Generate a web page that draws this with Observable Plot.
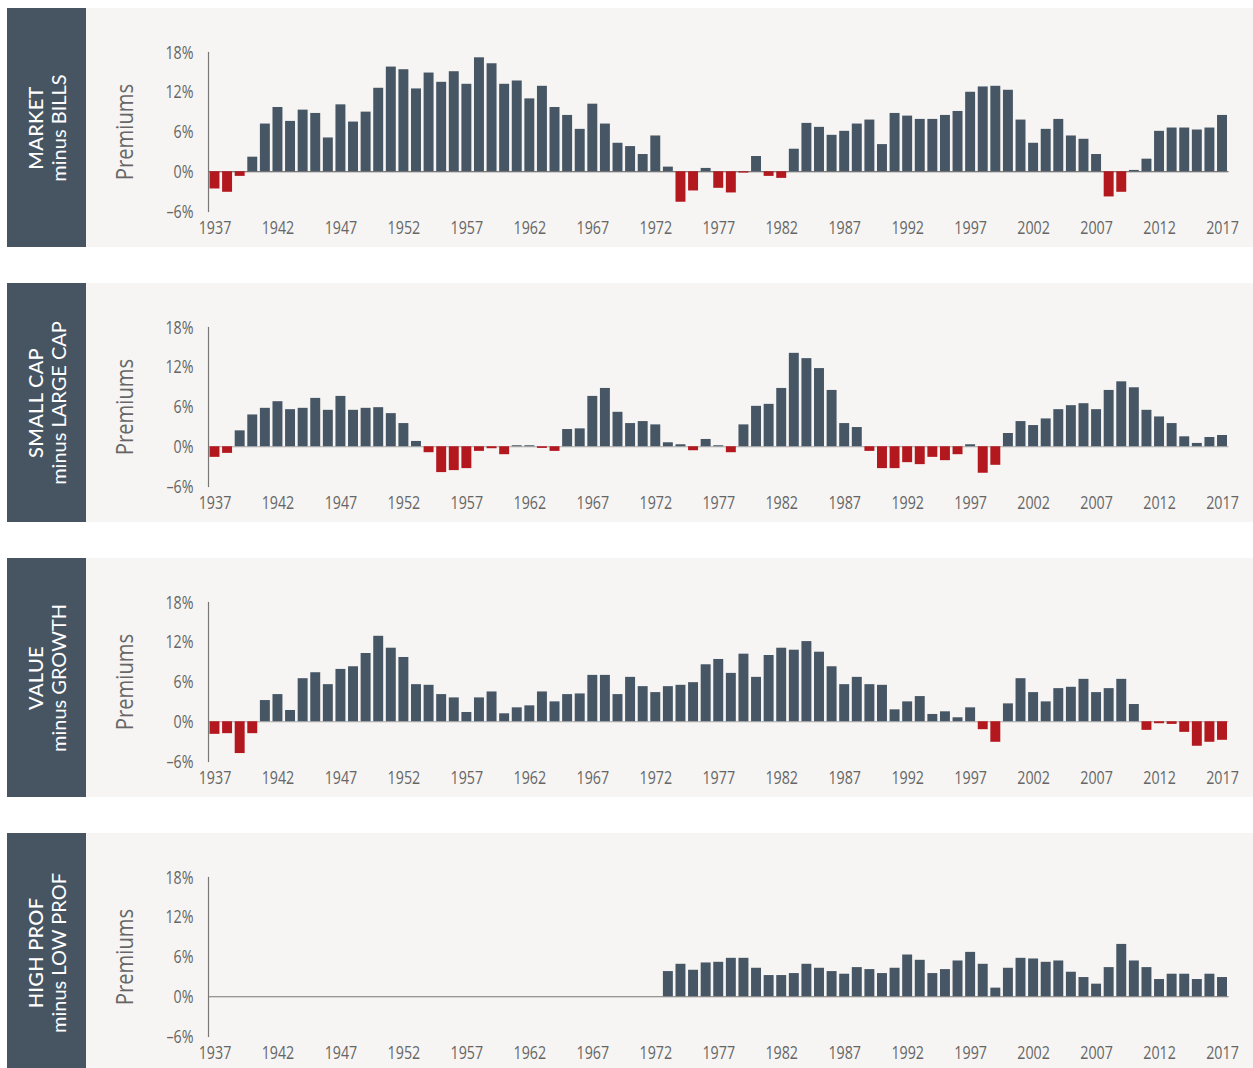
<!DOCTYPE html>
<html>
<head>
<meta charset="utf-8">
<script src="https://cdn.jsdelivr.net/npm/d3@7"></script>
<script src="https://cdn.jsdelivr.net/npm/@observablehq/plot@0.6"></script>
<style>
  html, body { margin: 0; padding: 0; background: #ffffff; overflow: hidden; width: 1253px; height: 1068px; }
  .panel { position: absolute; left: 7px; width: 1246px; height: 239px; background: #f6f5f3; }
  .side { position: absolute; left: 0; top: 0; width: 79px; height: 239px; background: #475563; }
  .side .t { position: absolute; left: 50%; top: 50%; transform: translate(-50%, -50%) rotate(-90deg);
             text-align: center; white-space: nowrap; color: #ffffff; font-family: Lato, "Noto Sans", sans-serif;
             font-size: 20px; line-height: 23px; }
  .side .l1 { font-weight: 500; letter-spacing: 0.3px; }
  .side .l2 { font-weight: 400; }
  .chart { position: absolute; left: 79px; top: 0; }
</style>
</head>
<body>
<div id="root"></div>
<script>
// ---- Data ----
const years = d3.range(1937, 2018); // 1937 … 2017
const xTickYears = [1937, 1942, 1947, 1952, 1957, 1962, 1967, 1972, 1977, 1982, 1987, 1992, 1997, 2002, 2007, 2012, 2017];
const yTicks = [-6, 0, 6, 12, 18];

const marketMinusBills = [
  -2.6, -3.1, -0.7, 2.2, 7.2, 9.7, 7.6, 9.3, 8.8, 5.1,
  10.1, 7.5, 9.0, 12.6, 15.8, 15.4, 12.5, 14.9, 13.5, 15.1,
  13.2, 17.2, 16.3, 13.2, 13.7, 11.0, 12.9, 9.7, 8.5, 6.4,
  10.2, 7.2, 4.3, 3.8, 2.6, 5.4, 0.7, -4.6, -2.9, 0.5,
  -2.5, -3.2, -0.2, 2.3, -0.7, -1.0, 3.4, 7.3, 6.7, 5.5,
  6.1, 7.2, 7.8, 4.1, 8.8, 8.4, 7.9, 7.9, 8.5, 9.1,
  12.0, 12.8, 12.9, 12.3, 7.8, 4.3, 6.4, 7.9, 5.4, 4.9,
  2.6, -3.8, -3.1, 0.2, 1.9, 6.1, 6.6, 6.6, 6.3, 6.6,
  8.5
];

const smallMinusLarge = [
  -1.6, -1.0, 2.4, 4.8, 5.8, 6.8, 5.6, 5.8, 7.3, 5.5,
  7.6, 5.5, 5.8, 5.9, 5.0, 3.5, 0.8, -0.9, -3.9, -3.6,
  -3.3, -0.7, -0.3, -1.2, 0.15, 0.15, -0.25, -0.7, 2.6, 2.7,
  7.6, 8.8, 5.2, 3.5, 3.8, 3.3, 0.6, 0.3, -0.6, 1.1,
  0.15, -0.9, 3.3, 6.1, 6.4, 8.8, 14.1, 13.3, 11.8, 8.5,
  3.5, 2.9, -0.7, -3.3, -3.3, -2.4, -2.7, -1.6, -2.1, -1.2,
  0.3, -4.0, -2.8, 2.0, 3.8, 3.2, 4.2, 5.6, 6.2, 6.5,
  5.6, 8.5, 9.8, 8.9, 5.5, 4.5, 3.5, 1.5, 0.5, 1.4,
  1.7
];

const valueMinusGrowth = [
  -1.9, -1.8, -4.8, -1.8, 3.2, 4.1, 1.7, 6.5, 7.4, 5.6,
  7.9, 8.3, 10.3, 12.9, 11.1, 9.7, 5.6, 5.5, 4.1, 3.6,
  1.4, 3.6, 4.5, 1.2, 2.1, 2.4, 4.5, 3.0, 4.1, 4.2,
  7.0, 7.0, 4.1, 6.7, 5.3, 4.4, 5.3, 5.5, 5.9, 8.6,
  9.4, 7.3, 10.2, 6.7, 10.0, 11.1, 10.8, 12.1, 10.5, 8.3,
  5.6, 6.7, 5.6, 5.5, 1.8, 3.0, 3.8, 1.1, 1.5, 0.6,
  2.1, -1.2, -3.1, 2.7, 6.5, 4.4, 3.0, 5.0, 5.2, 6.4,
  4.4, 5.0, 6.4, 2.6, -1.3, -0.3, -0.4, -1.6, -3.7, -3.1,
  -2.8
];

// High prof minus low prof: data begins in 1973
const profStartYear = 1973;
const highMinusLowProf = [
  3.8, 4.9, 4.0, 5.1, 5.2, 5.8, 5.8, 4.3, 3.2, 3.2,
  3.5, 4.9, 4.3, 3.8, 3.4, 4.4, 4.1, 3.5, 4.3, 6.3,
  5.5, 3.5, 4.1, 5.4, 6.7, 4.9, 1.3, 4.3, 5.8, 5.7,
  5.2, 5.4, 3.7, 2.9, 1.9, 4.4, 7.9, 5.4, 4.4, 2.6,
  3.4, 3.4, 2.6, 3.4, 2.9
];

const panels = [
  {top: 8,   line1: "MARKET",    line2: "minus BILLS",     start: 1937, values: marketMinusBills,  zero: "#555555"},
  {top: 283, line1: "SMALL CAP", line2: "minus LARGE CAP", start: 1937, values: smallMinusLarge,   zero: "#a8a8a8"},
  {top: 558, line1: "VALUE",     line2: "minus GROWTH",    start: 1937, values: valueMinusGrowth,  zero: "#a8a8a8"},
  {top: 833, line1: "HIGH PROF", line2: "minus LOW PROF",  start: profStartYear, values: highMinusLowProf, zero: "#777777"}
];

// ---- Style ----
const slate = "#475665";
const red = "#b3181f";
const textGray = "#666666";
const tickFont = '"Open Sans", "Noto Sans", sans-serif';

const root = document.getElementById("root");

panels.forEach(p => {
  const data = p.values.map((v, i) => ({year: p.start + i, value: v}));

  const panel = document.createElement("div");
  panel.className = "panel";
  panel.style.top = p.top + "px";

  const side = document.createElement("div");
  side.className = "side";
  side.innerHTML = `<div class="t"><div class="l1">${p.line1}</div><div class="l2">${p.line2}</div></div>`;
  panel.appendChild(side);

  const chart = Plot.plot({
    width: 1167,
    height: 239,
    marginLeft: 122,
    marginRight: 24.5,
    marginTop: 44,
    marginBottom: 36,
    style: {background: "transparent", fontFamily: tickFont, fontSize: "19px", color: textGray, overflow: "visible"},
    x: {type: "band", domain: years, paddingInner: 0.21, paddingOuter: 0.12, round: false},
    y: {domain: [-6, 18]},
    marks: [
      Plot.ruleY([0], {stroke: p.zero, strokeWidth: 1.2}),
      Plot.barY(data.filter(d => d.value >= 0), {x: "year", y: "value", fill: slate}),
      Plot.barY(data.filter(d => d.value < 0), {x: "year", y: "value", fill: red}),
      Plot.frame({anchor: "left", stroke: "#777777", strokeWidth: 1.2}),
      Plot.axisY({ticks: yTicks, tickFormat: d => (d < 0 ? "\u2013" + Math.abs(d) : d) + "%", tickSize: 0, tickPadding: 15, label: null, fill: textGray, fontSize: 19, fontWeight: 400}),
      Plot.axisX({ticks: xTickYears, tickFormat: d => String(d), tickSize: 0, tickPadding: 9, label: null, fill: textGray, fontSize: 19, fontWeight: 400}),
      Plot.text(["Premiums"], {frameAnchor: "left", textAnchor: "middle", rotate: -90, dx: -83, fontSize: 23, fontWeight: 400, fill: textGray, fontFamily: tickFont})
    ]
  });
  // condense the tick label glyphs horizontally (reference uses a condensed face)
  chart.querySelectorAll("text").forEach(t => {
    const tr = t.getAttribute("transform") || "";
    if (/rotate/.test(tr)) {
      t.setAttribute("transform", tr + " scale(0.88,1)");
    } else {
      t.setAttribute("transform", tr + " scale(0.75,1)");
    }
  });
  chart.classList.add("chart");
  chart.style.position = "absolute";
  chart.style.left = "79px";
  chart.style.top = "0px";
  panel.appendChild(chart);
  root.appendChild(panel);
});
</script>
</body>
</html>
